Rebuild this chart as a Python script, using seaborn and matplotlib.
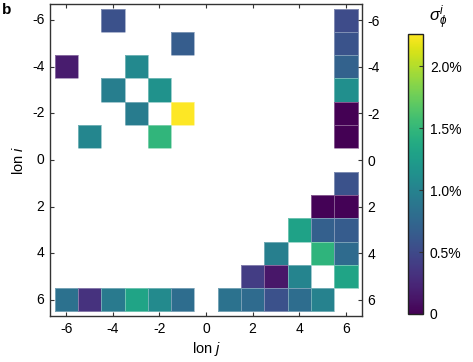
import numpy as np
import pandas as pd
import matplotlib
matplotlib.use('Agg')
import matplotlib.pyplot as plt
import seaborn as sns
from matplotlib.ticker import FuncFormatter

# longitude offsets on both axes
lons = list(range(-6, 7))
tick_lons = [-6, -4, -2, 0, 2, 4, 6]

# non-empty cells: row (lon i), column (lon j), value sigma in %
lon_i = [-6, -5, -4, -4, -3, -3, -2, -2, -1, -1,
         -6, -5, -4, -3, -2, -1,
         1, 2, 2, 3, 3, 3,
         4, 4, 4, 5, 5, 5, 5,
         6, 6, 6, 6, 6, 6, 6, 6, 6, 6, 6]
lon_j = [-4, -1, -6, -3, -4, -2, -3, -1, -5, -2,
         6, 6, 6, 6, 6, 6,
         6, 5, 6, 4, 5, 6,
         3, 5, 6, 2, 3, 4, 6,
         -6, -5, -4, -3, -2, -1, 1, 2, 3, 4, 5]
sigma = [0.56, 0.66, 0.17, 1.06, 0.96, 1.14, 0.94, 2.26, 1.04, 1.48,
         0.52, 0.58, 0.70, 1.12, 0.0, 0.0,
         0.57, 0.01, 0.01, 1.30, 0.68, 0.65,
         0.97, 1.47, 0.78, 0.40, 0.14, 1.02, 1.32,
         0.84, 0.32, 0.92, 1.32, 1.07, 0.80, 0.85, 0.78, 0.56, 0.80, 1.00]

cbar_ticks = [0, 0.5, 1.0, 1.5, 2.0]
vmax = 2.26

plt.rcParams['font.family'] = ['Liberation Sans', 'DejaVu Sans']
plt.rcParams['mathtext.fontset'] = 'custom'
plt.rcParams['mathtext.it'] = 'Liberation Sans:italic'
plt.rcParams['mathtext.rm'] = 'Liberation Sans'

grid = (pd.DataFrame({'i': lon_i, 'j': lon_j, 's': sigma})
        .pivot(index='i', columns='j', values='s')
        .reindex(index=lons, columns=lons))

fig = plt.figure(figsize=(4.73, 3.62), dpi=100)
ax = fig.add_axes([0.1057, 0.127, 0.66, 0.862])
cax = fig.add_axes([0.8626, 0.1326, 0.0317, 0.7735])

sns.heatmap(grid, ax=ax, cbar_ax=cax, cmap='viridis', vmin=0, vmax=vmax,
            linewidths=0.6, linecolor=(1, 1, 1, 0.35))

pos = [lons.index(v) + 0.5 for v in tick_lons]
ax.set_xlim(-0.2, 13.2)
ax.set_ylim(13.2, -0.2)
ax.set_xticks(pos)
ax.set_xticklabels(tick_lons, rotation=0, fontsize=10)
ax.set_yticks(pos)
ax.set_yticklabels(tick_lons, rotation=0, fontsize=10)
ax.set_xlabel('lon $j$', fontsize=10.5, labelpad=3)
ax.set_ylabel('lon $i$', fontsize=10.5, labelpad=4)

for s in ax.spines.values():
    s.set_visible(True)
    s.set_color('#333333')
    s.set_linewidth(1.0)

ax.tick_params(axis='x', direction='in', top=True, bottom=True, length=3,
               color='#333333', pad=4)
ax.tick_params(axis='y', direction='in', left=True, right=True,
               labelright=True, length=3, color='#333333', pad=4)
ax.tick_params(axis='y', which='major', left=True)

cbar = ax.collections[0].colorbar
cbar.set_ticks(cbar_ticks)
cbar.ax.yaxis.set_major_formatter(
    FuncFormatter(lambda v, p: '0' if v == 0 else '{:.1f}%'.format(v)))
cbar.ax.tick_params(direction='in', length=3, labelsize=10, color='#333333', pad=5)
cbar.outline.set_visible(True)
cbar.outline.set_edgecolor('#222222')
cbar.outline.set_linewidth(1.0)

fig.text(0.926, 0.95, r'$\sigma_\phi^i$', fontsize=12, ha='center', va='center')
fig.text(0.004, 0.972, 'b', fontsize=11, fontweight='bold', va='center')

fig.savefig('out.png', dpi=100)
